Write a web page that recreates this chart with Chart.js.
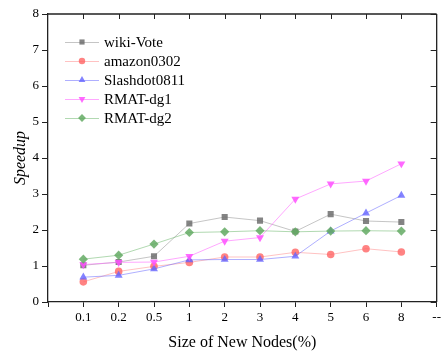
<!DOCTYPE html>
<html>
<head>
<meta charset="utf-8">
<script src="https://cdn.jsdelivr.net/npm/chart.js@4.4.1/dist/chart.umd.min.js"></script>
<style>
  html, body { margin: 0; padding: 0; background: #fff; }
  #c { display: block; }
</style>
</head>
<body>
<canvas id="c" width="444" height="352"></canvas>
<script>
// x categories (empty slot at the origin, "--" at the far end, as in the figure)
const xLabels = ['', '0.1', '0.2', '0.5', '1', '2', '3', '4', '5', '6', '8', '--'];
const seriesNames = ['wiki-Vote', 'amazon0302', 'Slashdot0811', 'RMAT-dg1', 'RMAT-dg2'];

// speedup values, one per category 0.1 .. 8
const wikiVote    = [1.02, 1.11, 1.27, 2.18, 2.36, 2.26, 1.96, 2.44, 2.25, 2.22];
const amazon0302  = [0.56, 0.85, 0.99, 1.10, 1.25, 1.25, 1.38, 1.32, 1.48, 1.39];
const slashdot    = [0.69, 0.74, 0.92, 1.17, 1.18, 1.18, 1.27, 1.97, 2.47, 2.96];
const rmatDg1     = [1.04, 1.10, 1.11, 1.27, 1.69, 1.79, 2.86, 3.28, 3.36, 3.84];
const rmatDg2     = [1.19, 1.30, 1.61, 1.93, 1.95, 1.98, 1.95, 1.97, 1.98, 1.97];

const yTicks = [0, 1, 2, 3, 4, 5, 6, 7, 8];

const serif = "'Liberation Serif', 'DejaVu Serif', serif";

// look of each series
const styles = [
  {line: 'rgba(150,150,150,0.55)', fill: 'rgba(110,110,110,0.85)', shape: 'rect',     r: 4.3, rot: 0},
  {line: 'rgba(255,120,120,0.45)', fill: 'rgba(255,100,100,0.8)',  shape: 'circle',   r: 3.8, rot: 0},
  {line: 'rgba(110,110,255,0.55)', fill: 'rgba(100,100,255,0.8)',  shape: 'triangle', r: 4.6, rot: 0},
  {line: 'rgba(255,110,255,0.6)',  fill: 'rgba(255,80,255,0.85)',  shape: 'triangle', r: 4.6, rot: 180},
  {line: 'rgba(100,180,100,0.5)',  fill: 'rgba(100,170,100,0.85)', shape: 'rectRot',  r: 4.6, rot: 0}
];

const allSeries = [wikiVote, amazon0302, slashdot, rmatDg1, rmatDg2];

const datasets = allSeries.map((vals, i) => ({
  label: seriesNames[i],
  data: [null, ...vals, null],
  borderColor: styles[i].line,
  borderWidth: 1,
  backgroundColor: styles[i].fill,
  pointBackgroundColor: styles[i].fill,
  pointBorderColor: styles[i].fill,
  pointBorderWidth: 0,
  pointStyle: styles[i].shape,
  pointRadius: styles[i].r,
  pointRotation: styles[i].rot,
  tension: 0,
  spanGaps: false,
  order: 5 - i
}));

// frame on top/right with inward ticks, plus the legend box
const framePlugin = {
  id: 'frame',
  afterDraw(chart) {
    const {ctx, chartArea: a, scales} = chart;
    ctx.save();
    ctx.strokeStyle = '#222';
    ctx.lineWidth = 1.3;
    ctx.beginPath();
    ctx.moveTo(a.left, a.top); ctx.lineTo(a.right, a.top);
    ctx.moveTo(a.right, a.top); ctx.lineTo(a.right, a.bottom);
    ctx.stroke();
    ctx.lineWidth = 1;
    ctx.beginPath();
    for (let i = 1; i < xLabels.length - 1; i++) {
      const x = Math.round(scales.x.getPixelForValue(i)) + 0.5;
      ctx.moveTo(x, a.top); ctx.lineTo(x, a.top + 5);
    }
    yTicks.forEach(v => {
      const y = Math.round(scales.y.getPixelForValue(v)) + 0.5;
      ctx.moveTo(a.right, y); ctx.lineTo(a.right - 6, y);
    });
    ctx.stroke();

    // legend
    const lx0 = 65, lx1 = 99, mx = 82, tx = 104, ty0 = 42, dy = 19;
    ctx.font = '15px ' + serif;
    ctx.textBaseline = 'middle';
    ctx.fillStyle = '#000';
    seriesNames.forEach((name, i) => {
      const y = ty0 + i * dy;
      const s = styles[i];
      ctx.strokeStyle = s.line;
      ctx.lineWidth = 1;
      ctx.beginPath();
      ctx.moveTo(lx0, y + 0.5); ctx.lineTo(lx1, y + 0.5);
      ctx.stroke();
      ctx.fillStyle = s.fill;
      ctx.strokeStyle = s.fill;
      Chart.helpers.drawPoint(ctx, {pointStyle: s.shape, radius: s.r * 0.85, rotation: s.rot, borderWidth: 0}, mx, y);
      ctx.fillStyle = '#000';
      ctx.fillText(name, tx, y + 1);
    });
    ctx.restore();
  }
};

new Chart(document.getElementById('c'), {
  type: 'line',
  data: {labels: xLabels, datasets},
  plugins: [framePlugin],
  options: {
    responsive: false,
    animation: false,
    devicePixelRatio: 1,
    layout: {padding: {left: 0, right: 3, top: 14, bottom: 0}},
    plugins: {legend: {display: false}, tooltip: {enabled: false}},
    scales: {
      x: {
        type: 'category',
        offset: false,
        grid: {drawOnChartArea: false, tickLength: 5, color: '#222', lineWidth: 1},
        border: {color: '#222', width: 1.3},
        ticks: {autoSkip: false, maxRotation: 0, padding: 3, color: '#000', font: {family: serif, size: 13}},
        title: {display: true, text: 'Size of New Nodes(%)', color: '#000', font: {family: serif, size: 16}, padding: {top: 0, bottom: 0}},
        afterFit: s => { s.height = 50; }
      },
      y: {
        min: 0, max: 8,
        afterBuildTicks: s => { s.ticks = yTicks.map(v => ({value: v})); },
        grid: {drawOnChartArea: false, tickLength: 6, color: '#222', lineWidth: 1},
        border: {color: '#222', width: 1.3},
        ticks: {padding: 3, color: '#000', font: {family: serif, size: 13}},
        title: {display: true, text: 'Speedup', color: '#000', font: {family: serif, size: 16, style: 'italic'}, padding: {top: 11, bottom: 0}},
        afterFit: s => { s.width = 48; }
      }
    }
  }
});
</script>
</body>
</html>
